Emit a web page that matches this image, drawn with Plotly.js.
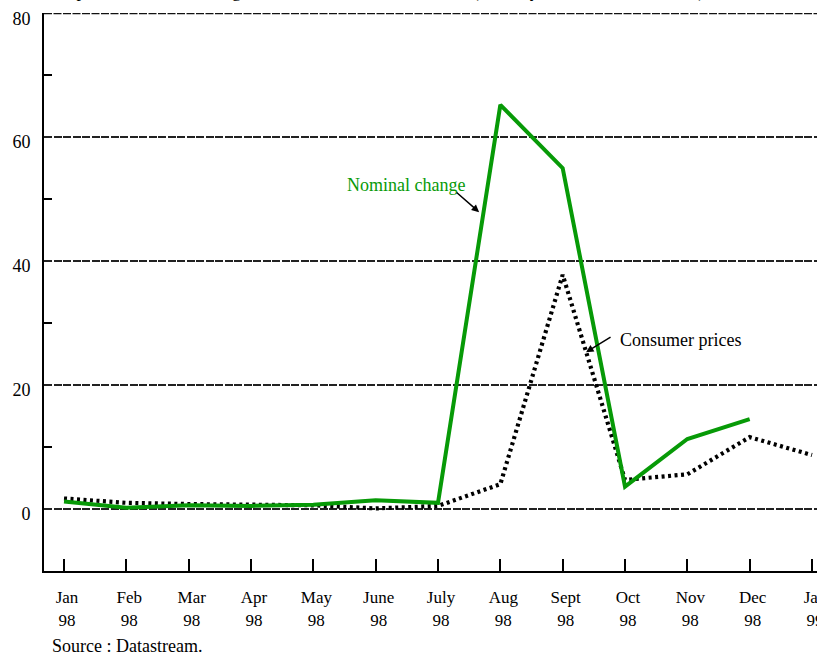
<!DOCTYPE html>
<html>
<head>
<meta charset="utf-8">
<script src="https://cdn.plot.ly/plotly-3.0.1.min.js"></script>
<style>html,body{margin:0;padding:0;background:#fff;}#chart{width:817px;height:653px;}</style>
</head>
<body>
<div id="chart"></div>
<script>
const months = ['Jan','Feb','Mar','Apr','May','June','July','Aug','Sept','Oct','Nov','Dec','Jan'];
const years  = ['98','98','98','98','98','98','98','98','98','98','98','98','99'];
const nominalChange  = [1.2, 0.2, 0.6, 0.5, 0.7, 1.4, 1.0, 65.2, 55.0, 3.6, 11.3, 14.5];
const consumerPrices = [1.7, 1.0, 0.8, 0.7, 0.6, 0.1, 0.5, 4.0, 37.8, 4.7, 5.6, 11.6, 8.7];
const yLabelVals = [0, 20, 40, 60, 80];
const yMinorVals = [10, 30, 50, 70];

const idx = months.map((m, i) => i);
const font = '"Liberation Serif", "Times New Roman", Times, serif';

const traces = [
  {
    x: idx.slice(0, consumerPrices.length), y: consumerPrices,
    type: 'scatter', mode: 'lines',
    line: {color: '#000', width: 4.2, dash: '3px,3.5px'},
    hoverinfo: 'skip', showlegend: false
  },
  {
    x: idx.slice(0, nominalChange.length), y: nominalChange,
    type: 'scatter', mode: 'lines',
    line: {color: '#079a07', width: 4},
    hoverinfo: 'skip', showlegend: false
  }
];

const gridStyle = {color: '#222', width: 1.5, dash: '8px,1.5px'};

const layout = {
  width: 817, height: 653,
  margin: {l: 44, r: 0, t: 13, b: 82, pad: 0},
  paper_bgcolor: '#fff', plot_bgcolor: '#fff',
  font: {family: font, size: 17, color: '#000'},
  showlegend: false,
  xaxis: {
    range: [-0.321, 12.08],
    tickmode: 'array', tickvals: idx,
    ticktext: months.map((m, i) => m + '<br>' + years[i]),
    ticks: 'inside', ticklen: 12, tickwidth: 2, tickcolor: '#000',
    ticklabelshift: 3, ticklabelstandoff: 10, ticklabeloverflow: 'allow',
    showgrid: false, zeroline: false,
    showline: true, linecolor: '#000', linewidth: 2,
    tickfont: {family: font, size: 17, color: '#000'},
    fixedrange: true
  },
  yaxis: {
    range: [-10, 80.03],
    tickmode: 'array', tickvals: yLabelVals,
    ticktext: yLabelVals.map(String),
    ticks: '', ticklabelshift: 5, ticklabelstandoff: 8, ticklabeloverflow: 'allow',
    showgrid: true, gridcolor: gridStyle.color, gridwidth: gridStyle.width, griddash: gridStyle.dash,
    minor: {tickmode: 'array', tickvals: yMinorVals, ticks: 'inside', ticklen: 8, tickwidth: 2, tickcolor: '#000', showgrid: false},
    zeroline: false,
    showline: true, linecolor: '#000', linewidth: 2,
    tickfont: {family: font, size: 18, color: '#000'},
    fixedrange: true
  },
  shapes: [
    {type: 'line', xref: 'paper', yref: 'y', x0: 0, x1: 1, y0: yLabelVals[yLabelVals.length - 1], y1: yLabelVals[yLabelVals.length - 1],
     line: {color: '#111', width: 2, dash: gridStyle.dash}, layer: 'above'}
  ],
  annotations: [
    {
      xref: 'paper', yref: 'paper', x: -0.0616, y: 1, xanchor: 'left', yanchor: 'bottom', yshift: 9,
      text: 'Consumer prices and the exchange rate of the rouble to the dollar (monthly rates of increase in %)',
      showarrow: false, font: {family: font, size: 18, color: '#000'}
    },
    {
      x: 5.49, y: 52.3, xref: 'x', yref: 'y', text: 'Nominal change', showarrow: false,
      font: {family: font, size: 18, color: '#079a07'}
    },
    {
      x: 6.66, y: 47.9, xref: 'x', yref: 'y', text: '', showarrow: true,
      ax: -24, ay: -21, arrowhead: 2, arrowsize: 1, arrowwidth: 1.5, arrowcolor: '#000'
    },
    {
      x: 8.89, y: 27.3, xref: 'x', yref: 'y', text: 'Consumer prices', showarrow: false,
      xanchor: 'left', font: {family: font, size: 18, color: '#000'}
    },
    {
      x: 8.375, y: 25.3, xref: 'x', yref: 'y', text: '', showarrow: true,
      ax: 26, ay: -16, arrowhead: 2, arrowsize: 1, arrowwidth: 1.5, arrowcolor: '#000'
    },
    {
      xref: 'paper', yref: 'paper', x: 0.008, y: 0, xanchor: 'left', yanchor: 'middle', yshift: -75,
      text: 'Source : Datastream.', showarrow: false, font: {family: font, size: 18, color: '#000'}
    }
  ]
};

Plotly.newPlot('chart', traces, layout, {staticPlot: true, displayModeBar: false});
</script>
</body>
</html>
